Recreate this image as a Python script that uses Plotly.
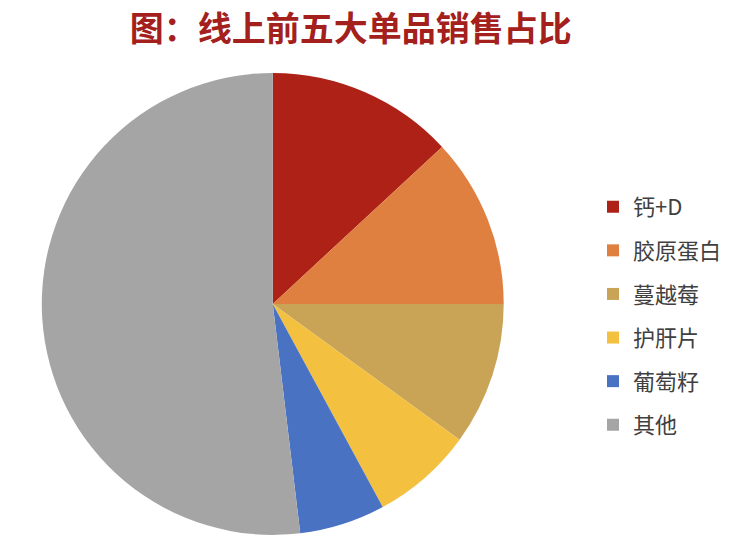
import plotly.graph_objects as go

# data (percent of online sales)
labels = ['钙+D', '胶原蛋白', '蔓越莓', '护肝片', '葡萄籽', '其他']
shares = [13.1, 11.9, 10.0, 7.1, 6.0, 51.9]
colors = ['#AE2117', '#E08040', '#C9A457', '#F4C040', '#4A72C2', '#A5A5A5']

fig = go.Figure()
fig.add_trace(go.Pie(
    labels=labels,
    values=shares,
    sort=False,
    direction='clockwise',
    rotation=0,
    marker=dict(colors=colors, line=dict(width=0)),
    textinfo='none',
    hoverinfo='label+percent',
    showlegend=False,
    domain=dict(x=[0.045, 0.661], y=[0.035, 0.881]),
))

# legend entries as separate groups so the row spacing can be widened
for lab, col in zip(labels, colors):
    fig.add_trace(go.Scatter(
        x=[None], y=[None], mode='markers', name=lab, legendgroup=lab,
        marker=dict(symbol='square', size=12, color=col),
    ))

fig.update_layout(
    width=750, height=546,
    margin=dict(l=0, r=0, t=0, b=0),
    paper_bgcolor='white',
    plot_bgcolor='white',
    font=dict(family='Noto Sans CJK SC, sans-serif', color='#404040'),
    xaxis=dict(visible=False),
    yaxis=dict(visible=False),
    title=dict(
        text='<b>图：线上前五大单品销售占比</b>',
        x=0.457, xanchor='center', y=0.962, yanchor='middle',
        font=dict(size=34, color='#A3201C', family='Noto Sans CJK SC, sans-serif'),
    ),
    legend=dict(
        x=0.78, xanchor='left', y=0.436, yanchor='middle',
        font=dict(size=22, color='#404040'),
        itemwidth=30,
        tracegroupgap=12,
        bgcolor='rgba(0,0,0,0)',
    ),
    showlegend=True,
)

fig.write_html("out.html")
